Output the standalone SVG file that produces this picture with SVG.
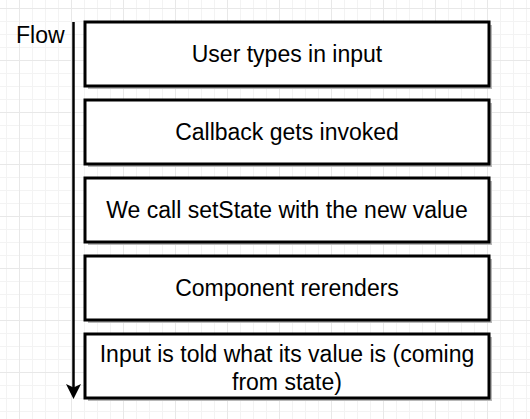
<svg xmlns="http://www.w3.org/2000/svg" width="530" height="419" viewBox="0 0 530 419">
  <defs>
    <pattern id="minor" x="6" y="8" width="13" height="13" patternUnits="userSpaceOnUse">
      <path d="M 0.5 0 V 13 M 0 0.5 H 13" fill="none" stroke="#f3f3f3" stroke-width="1"/>
    </pattern>
    <pattern id="major" x="19" y="8" width="52" height="52" patternUnits="userSpaceOnUse">
      <path d="M 0.5 0 V 52 M 0 0.5 H 52" fill="none" stroke="#e8e8e8" stroke-width="1"/>
    </pattern>
    <marker id="arrow" markerUnits="userSpaceOnUse" markerWidth="16" markerHeight="16" viewBox="0 0 16 16" refX="8" refY="14" orient="auto-start-reverse">
      <path d="M 1 0 L 8 14 L 15 0 L 8 3 Z" fill="#000"/>
    </marker>
    <style>
      .box rect.s { fill: #b8b8b8; }
      .box rect.b { fill: #fff; stroke: #000; stroke-width: 3; }
      text { font-family: "Liberation Sans", Arial, Helvetica, sans-serif; font-size: 23px; fill: #000; }
      .c { text-anchor: middle; }
    </style>
  </defs>
  <rect width="530" height="419" fill="#fff"/>
  <rect width="530" height="419" fill="url(#minor)"/>
  <rect width="530" height="419" fill="url(#major)"/>

  <g id="connectors">
    <g id="flow-arrow">
      <line x1="73.5" y1="22" x2="73.5" y2="388" stroke="#000" stroke-width="2.5"/>
      <path d="M 66 384 L 73.5 399 L 81 384 L 73.5 387.5 Z" fill="#000"/>
    </g>
  </g>

  <g id="flow-label">
    <text x="16" y="43">Flow</text>
  </g>

  <g id="node1" class="box">
    <rect class="s" x="88" y="25" width="404" height="64"/>
    <rect class="b" x="85" y="22" width="404" height="64"/>
    <text class="c" x="287" y="62">User types in input</text>
  </g>
  <g id="node2" class="box">
    <rect class="s" x="88" y="103" width="404" height="64"/>
    <rect class="b" x="85" y="100" width="404" height="64"/>
    <text class="c" x="287" y="140">Callback gets invoked</text>
  </g>
  <g id="node3" class="box">
    <rect class="s" x="88" y="181" width="404" height="64"/>
    <rect class="b" x="85" y="178" width="404" height="64"/>
    <text class="c" x="287" y="218">We call setState with the new value</text>
  </g>
  <g id="node4" class="box">
    <rect class="s" x="88" y="259" width="404" height="64"/>
    <rect class="b" x="85" y="256" width="404" height="64"/>
    <text class="c" x="287" y="296">Component rerenders</text>
  </g>
  <g id="node5" class="box">
    <rect class="s" x="88" y="337" width="404" height="64"/>
    <rect class="b" x="85" y="334" width="404" height="64"/>
    <text class="c" x="287" y="362">Input is told what its value is (coming</text>
    <text class="c" x="287" y="390">from state)</text>
  </g>
</svg>
